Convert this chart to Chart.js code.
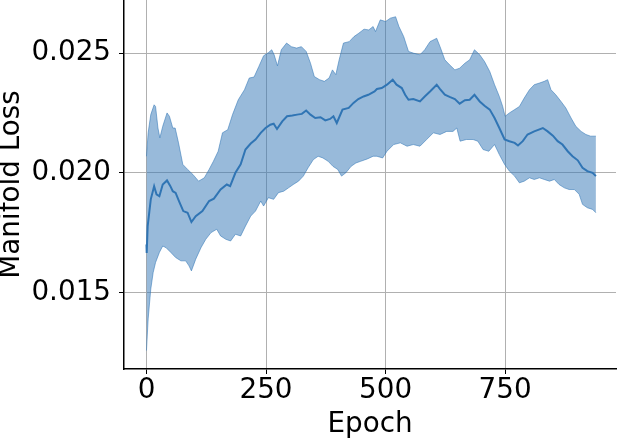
<!DOCTYPE html>
<html>
<head>
<meta charset="utf-8">
<script src="https://cdn.jsdelivr.net/npm/chart.js@4/dist/chart.umd.min.js"></script>
<style>
	html, body { margin: 0; padding: 0; background: #fff; }
	#wrap { width: 618px; height: 440px; }
</style>
</head>
<body>
<div id="wrap"><canvas id="myChart" width="618" height="440"></canvas></div>
<script>
// Mean manifold loss per epoch
let meanEpochs = [0, 0.5, 2.5, 9, 16, 21, 27, 34, 43, 50, 55, 61, 68, 77, 86, 94, 103, 117, 131, 141, 155, 168, 175, 186, 197, 207, 218, 228, 239, 249, 259, 266, 273, 284, 294, 305, 315, 325, 334, 343, 353, 364, 374, 384, 391, 398, 410, 423, 433, 443, 454, 464, 477, 482, 492, 503, 515, 523, 534, 541, 548, 558, 572, 582, 593, 607, 614, 624, 634, 645, 655, 666, 676, 686, 697, 707, 718, 728, 738, 749, 759, 770, 777, 787, 797, 811, 829, 839, 850, 860, 870, 881, 891, 902, 912, 922, 933, 940]
let meanLoss = [0.01700, 0.01665, 0.01777, 0.01889, 0.01944, 0.01910, 0.01902, 0.01951, 0.01968, 0.01944, 0.01923, 0.01916, 0.01882, 0.01840, 0.01833, 0.01794, 0.01819, 0.01840, 0.01882, 0.01892, 0.01930, 0.01951, 0.01944, 0.02000, 0.02035, 0.02097, 0.02122, 0.02139, 0.02167, 0.02187, 0.02201, 0.02205, 0.02183, 0.02215, 0.02236, 0.02239, 0.02243, 0.02246, 0.02260, 0.02243, 0.02229, 0.02232, 0.02219, 0.02225, 0.02236, 0.02208, 0.02264, 0.02271, 0.02292, 0.02308, 0.02319, 0.02326, 0.02340, 0.02350, 0.02354, 0.02368, 0.02389, 0.02368, 0.02354, 0.02326, 0.02305, 0.02308, 0.02298, 0.02319, 0.02340, 0.02368, 0.02350, 0.02326, 0.02317, 0.02308, 0.02289, 0.02303, 0.02305, 0.02326, 0.02298, 0.02280, 0.02264, 0.02229, 0.02187, 0.02139, 0.02132, 0.02125, 0.02114, 0.02132, 0.02160, 0.02173, 0.02187, 0.02173, 0.02155, 0.02132, 0.02118, 0.02090, 0.02069, 0.02052, 0.02021, 0.02007, 0.02000, 0.01986]

// Upper edge of the band (mean + std)
let upperEpochs = [0, 3.5, 9, 16, 19, 24, 28, 34, 43, 48, 55, 60, 67, 76, 86, 97, 109, 121, 131, 140, 150, 159, 170, 180, 192, 205, 215, 225, 235, 245, 255, 262, 267, 274, 282, 293, 303, 314, 324, 334, 343, 351, 362, 372, 382, 389, 396, 403, 412, 424, 434, 444, 455, 465, 474, 479, 489, 500, 510, 521, 528, 538, 548, 558, 572, 582, 593, 607, 614, 624, 634, 645, 655, 666, 676, 686, 697, 707, 718, 728, 738, 745, 750, 759, 770, 780, 790, 801, 811, 822, 832, 839, 846, 856, 867, 877, 888, 898, 909, 919, 929, 940]
let upperLoss = [0.02069, 0.02167, 0.02243, 0.02284, 0.02277, 0.02187, 0.02146, 0.02194, 0.02250, 0.02236, 0.02187, 0.02187, 0.02125, 0.02035, 0.02014, 0.01993, 0.01965, 0.01979, 0.02014, 0.02048, 0.02090, 0.02167, 0.02180, 0.02243, 0.02305, 0.02347, 0.02396, 0.02400, 0.02444, 0.02489, 0.02502, 0.02514, 0.02493, 0.02447, 0.02514, 0.02542, 0.02527, 0.02521, 0.02527, 0.02507, 0.02458, 0.02402, 0.02389, 0.02382, 0.02396, 0.02430, 0.02410, 0.02472, 0.02542, 0.02548, 0.02569, 0.02583, 0.02600, 0.02597, 0.02611, 0.02590, 0.02639, 0.02632, 0.02646, 0.02652, 0.02611, 0.02569, 0.02507, 0.02500, 0.02493, 0.02514, 0.02548, 0.02562, 0.02527, 0.02472, 0.02451, 0.02430, 0.02437, 0.02458, 0.02472, 0.02514, 0.02493, 0.02465, 0.02423, 0.02368, 0.02319, 0.02277, 0.02236, 0.02250, 0.02264, 0.02277, 0.02312, 0.02347, 0.02368, 0.02375, 0.02382, 0.02389, 0.02347, 0.02326, 0.02298, 0.02271, 0.02229, 0.02194, 0.02173, 0.02160, 0.02153, 0.02153]

// Lower edge of the band (mean - std)
let lowerEpochs = [0, 3.5, 9, 14, 19, 27, 34, 41, 51, 61, 72, 82, 89, 94, 103, 114, 124, 135, 147, 155, 166, 176, 186, 197, 207, 218, 228, 239, 245, 255, 266, 276, 287, 297, 307, 318, 328, 338, 349, 359, 369, 380, 390, 400, 408, 417, 428, 438, 448, 462, 474, 482, 494, 503, 517, 531, 545, 558, 572, 586, 600, 614, 628, 641, 649, 656, 669, 683, 693, 704, 716, 728, 738, 749, 759, 770, 780, 790, 801, 811, 822, 832, 843, 853, 863, 874, 884, 895, 905, 912, 922, 933, 940]
let lowerLoss = [0.01257, 0.01389, 0.01514, 0.01583, 0.01625, 0.01667, 0.01694, 0.01687, 0.01667, 0.01646, 0.01632, 0.01632, 0.01611, 0.01590, 0.01639, 0.01687, 0.01722, 0.01750, 0.01764, 0.01736, 0.01722, 0.01715, 0.01743, 0.01736, 0.01777, 0.01819, 0.01840, 0.01882, 0.01861, 0.01896, 0.01889, 0.01917, 0.01923, 0.01937, 0.01951, 0.01965, 0.01986, 0.02021, 0.02055, 0.02069, 0.02062, 0.02048, 0.02027, 0.02014, 0.01986, 0.02000, 0.02027, 0.02041, 0.02048, 0.02058, 0.02069, 0.02069, 0.02062, 0.02090, 0.02118, 0.02125, 0.02111, 0.02118, 0.02111, 0.02139, 0.02167, 0.02160, 0.02173, 0.02173, 0.02187, 0.02132, 0.02139, 0.02139, 0.02132, 0.02097, 0.02090, 0.02118, 0.02076, 0.02035, 0.02007, 0.01986, 0.01958, 0.01965, 0.01979, 0.01972, 0.01979, 0.01972, 0.01965, 0.01972, 0.01951, 0.01937, 0.01930, 0.01930, 0.01910, 0.01868, 0.01854, 0.01847, 0.01833]

// Axis ticks
let xTicks = [0, 250, 500, 750]
let yTicks = [0.015, 0.020, 0.025]

function toPoints(xs, ys) {
	return xs.map((x, i) => ({x: x, y: ys[i]}))
}

let font = {family: "'DejaVu Sans', sans-serif", size: 27.8, lineHeight: 1}

let config = {
	type: "line",
	data: {
		datasets: [
			{
				label: "lower",
				data: toPoints(lowerEpochs, lowerLoss),
				borderColor: "rgba(49, 118, 182, 0.55)",
				borderWidth: 1,
				pointRadius: 0,
				fill: false,
				tension: 0,
			},
			{
				label: "upper",
				data: toPoints(upperEpochs, upperLoss),
				borderColor: "rgba(49, 118, 182, 0.55)",
				backgroundColor: "rgba(49, 118, 182, 0.5)",
				borderWidth: 1,
				pointRadius: 0,
				fill: "-1",
				tension: 0,
			},
			{
				label: "mean",
				data: toPoints(meanEpochs, meanLoss),
				borderColor: "#2f74b3",
				borderWidth: 2,
				pointRadius: 0,
				fill: false,
				tension: 0,
			},
		],
	},
	options: {
		responsive: false,
		animation: false,
		layout: {padding: {left: 0, right: 2, top: 0, bottom: 0}},
		plugins: {
			legend: {display: false},
			tooltip: {enabled: false},
		},
		scales: {
			x: {
				type: "linear",
				min: -47,
				max: 982,
				afterBuildTicks: function (scale) {
					scale.ticks = xTicks.map(v => ({value: v}))
				},
				afterFit: function (scale) {
					scale.height = 71
					scale.paddingLeft = 0
					scale.paddingRight = 0
				},
				grid: {
					color: "#b0b0b0",
					lineWidth: 1,
					tickLength: 5,
					tickColor: "#000",
				},
				border: {color: "#000", width: 1.5},
				ticks: {
					color: "#000",
					font: font,
					padding: 3,
					maxRotation: 0,
				},
				title: {
					display: true,
					text: "Epoch",
					color: "#000",
					font: font,
					padding: {top: 0, bottom: 1},
				},
			},
			y: {
				type: "linear",
				min: 0.0118,
				max: 0.02722,
				afterBuildTicks: function (scale) {
					scale.ticks = yTicks.map(v => ({value: v}))
				},
				afterFit: function (scale) {
					scale.width = 124
					scale.paddingTop = 0
					scale.paddingBottom = 0
				},
				grid: {
					color: "#b0b0b0",
					lineWidth: 1,
					tickLength: 5,
					tickColor: "#000",
				},
				border: {color: "#000", width: 1.5},
				ticks: {
					color: "#000",
					font: font,
					padding: 8,
					callback: v => v.toFixed(3),
				},
				title: {
					display: true,
					text: "Manifold Loss",
					color: "#000",
					font: font,
					padding: {top: -2, bottom: 0},
				},
			},
		},
	},
}

let ctx = document.getElementById("myChart").getContext("2d")
let lossChart = new Chart(ctx, config)
</script>
</body>
</html>
